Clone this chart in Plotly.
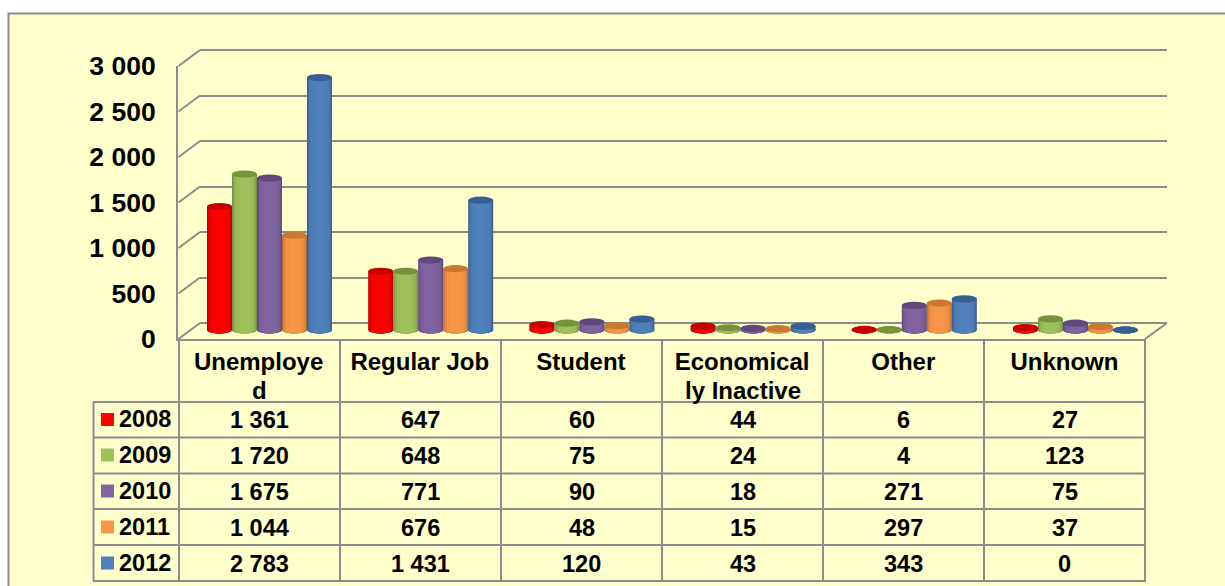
import plotly.graph_objects as go

categories = ["Unemployed", "Regular Job", "Student", "Economically Inactive", "Other", "Unknown"]
label_line1 = ["Unemploye", "Regular Job", "Student", "Economical", "Other", "Unknown"]
label_line2 = ["d", "", "", "ly Inactive", "", ""]
years = ["2008", "2009", "2010", "2011", "2012"]
v2008 = [1361, 647, 60, 44, 6, 27]
v2009 = [1720, 648, 75, 24, 4, 123]
v2010 = [1675, 771, 90, 18, 271, 75]
v2011 = [1044, 676, 48, 15, 297, 37]
v2012 = [2783, 1431, 120, 43, 343, 0]
series = [v2008, v2009, v2010, v2011, v2012]
colors = ["#FF0000", "#A0C05C", "#8064A2", "#F79646", "#4F81BD"]
top_colors = ["#C40000", "#76923C", "#5F497A", "#C87A32", "#366092"]
y_ticks = [0, 500, 1000, 1500, 2000, 2500, 3000]
y_ticktext = ["0", "500", "1 000", "1 500", "2 000", "2 500", "3 000"]

W, H = 1225, 586
FONT = "Liberation Sans"
GRID = "#8C8C8C"
PANEL = "#FFFFCC"


def X(p):
    return p / W


def Y(p):
    return 1 - p / H


def shade(hex_color, f):
    r, g, b = (int(hex_color[i:i + 2], 16) for i in (1, 3, 5))
    return "rgb(%d,%d,%d)" % (r * f, g * f, b * f)


def fmt(v):
    return f"{v:,}".replace(",", " ")


fig = go.Figure()

# Layout scales: back wall, front plane, mid plane (bars)
PX_PER_UNIT = 0.0907
BAR_ZERO_PX = 330
BAR_LO, BAR_HI = -200, 3200
bar_w = 25 / 161.2
disc_half = 3.6 / PX_PER_UNIT
layers = [(1.0, 0.72), (0.94, 0.84), (0.85, 0.93), (0.7, 0.98), (0.42, 1.0)]

shapes = []
# panel
shapes.append(dict(type="rect", xref="paper", yref="paper", x0=X(8.5), x1=X(1240), y0=Y(13.5), y1=Y(600),
                   fillcolor=PANEL, line=dict(color=GRID, width=2), layer="below"))

# side-wall diagonals
for t in y_ticks:
    shapes.append(dict(type="line", xref="paper", yref="paper", x0=X(178.5), x1=X(200),
                       y0=Y(339 - t * 273 / 3000), y1=Y(323 - t * 273 / 3000),
                       line=dict(color=GRID, width=2), layer="below"))
shapes.append(dict(type="line", xref="paper", yref="paper", x0=X(1145), x1=X(1167), y0=Y(339), y1=Y(323),
                   line=dict(color=GRID, width=2), layer="below"))

# table rules
for x in [179, 340, 501, 662, 823, 984, 1145]:
    shapes.append(dict(type="line", xref="paper", yref="paper", x0=X(x), x1=X(x), y0=Y(339), y1=Y(581),
                       line=dict(color=GRID, width=2), layer="below"))
shapes.append(dict(type="line", xref="paper", yref="paper", x0=X(93.5), x1=X(93.5), y0=Y(402), y1=Y(581),
                   line=dict(color=GRID, width=2), layer="below"))
for y in [402, 437.5, 473.5, 509, 545, 581]:
    shapes.append(dict(type="line", xref="paper", yref="paper", x0=X(93), x1=X(1146), y0=Y(y), y1=Y(y),
                       line=dict(color=GRID, width=2), layer="below"))

# back wall grid (first subplot, drawn first)
fig.add_trace(go.Scatter(x=[0], y=[0], xaxis="x", yaxis="y", mode="markers", marker=dict(opacity=0),
                         showlegend=False, hoverinfo="skip"))
# front axis
fig.add_trace(go.Scatter(x=[0], y=[0], xaxis="x2", yaxis="y2", mode="markers", marker=dict(opacity=0),
                         showlegend=False, hoverinfo="skip"))

# cylinders
for s, vals in enumerate(series):
    centre = (s - 2) * bar_w
    for frac, f in layers:
        w = bar_w * frac
        fig.add_trace(go.Bar(
            x=list(range(6)), y=vals, xaxis="x3", yaxis="y3",
            width=[w] * 6, offset=[centre - w / 2] * 6,
            marker=dict(color=shade(colors[s], f), line=dict(width=0)),
            name=years[s], showlegend=False, hoverinfo="skip"))
        for i in range(6):
            shapes.append(dict(type="circle", xref="x3", yref="y3",
                               x0=i + centre - w / 2, x1=i + centre + w / 2,
                               y0=-disc_half, y1=disc_half,
                               fillcolor=shade(colors[s], f), line=dict(width=0), layer="below"))
    for i, v in enumerate(vals):
        shapes.append(dict(type="circle", xref="x3", yref="y3",
                           x0=i + centre - bar_w / 2, x1=i + centre + bar_w / 2,
                           y0=v - disc_half, y1=v + disc_half,
                           fillcolor=top_colors[s], line=dict(width=0), layer="above"))

# table text
annotations = []
col_centres = [259.5, 420.5, 581.5, 742.5, 903.5, 1064.5]
row_centres = [420, 455.5, 491.5, 527.5, 563.5]
for c, line in enumerate(label_line2):
    if line:
        annotations.append(dict(xref="paper", yref="paper", x=X(col_centres[c]), y=Y(390), text=f"<b>{line}</b>",
                                showarrow=False, xanchor="center", yanchor="middle",
                                font=dict(size=24, family=FONT, color="black")))
for r, (yr, vals) in enumerate(zip(years, series)):
    yc = row_centres[r]
    shapes.append(dict(type="rect", xref="paper", yref="paper", x0=X(101), x1=X(114), y0=Y(yc - 7), y1=Y(yc + 6),
                       fillcolor=colors[r], line=dict(width=0), layer="below"))
    annotations.append(dict(xref="paper", yref="paper", x=X(116.5), y=Y(yc - 1), text=f"<b>{yr}</b>", showarrow=False,
                            xanchor="left", yanchor="middle",
                            font=dict(size=23.5, family=FONT, color="black")))
    for c, v in enumerate(vals):
        annotations.append(dict(xref="paper", yref="paper", x=X(col_centres[c]), y=Y(yc), text=f"<b>{fmt(v)}</b>",
                                showarrow=False, xanchor="center", yanchor="middle",
                                font=dict(size=23.5, family=FONT, color="black")))

fig.update_layout(
    template="none",
    width=W, height=H, margin=dict(l=0, r=0, t=0, b=0, pad=0, autoexpand=False),
    paper_bgcolor="white", plot_bgcolor="rgba(0,0,0,0)",
    barmode="overlay", showlegend=False,
    font=dict(family=FONT, color="black"),
    shapes=shapes, annotations=annotations,
    xaxis=dict(domain=[X(200), X(1167)], range=[-0.5, 5.5], visible=False, anchor="y", automargin=False),
    yaxis=dict(domain=[Y(323 + 9.1), Y(50 - 9.1)], range=[-100, 3100], tickvals=y_ticks, showticklabels=False, ticks="",
               showgrid=True, gridcolor=GRID, gridwidth=2, zeroline=False,
               showline=False, anchor="x", automargin=False),
    xaxis2=dict(domain=[X(178), X(1145)], range=[-0.5, 5.5], tickvals=list(range(6)),
                ticktext=[f"<b>{c}</b>" for c in label_line1],
                tickfont=dict(size=24, family=FONT, color="black"), ticks="", showgrid=False, zeroline=False,
                showline=True, linecolor=GRID, linewidth=2, anchor="y2", ticklabelstandoff=0, automargin=False),
    yaxis2=dict(domain=[Y(339), Y(66)], range=[0, 3000], tickvals=y_ticks, ticktext=[f"<b>{t}</b>" for t in y_ticktext],
                tickfont=dict(size=26.5, family=FONT, color="black"), ticks="", showgrid=False, zeroline=False,
                showline=True, linecolor=GRID, linewidth=2, anchor="x2", ticklabelstandoff=15, automargin=False),
    xaxis3=dict(domain=[X(188.9), X(1156.1)], range=[-0.5, 5.5], visible=False, anchor="y3", automargin=False),
    yaxis3=dict(domain=[Y(BAR_ZERO_PX - BAR_LO * PX_PER_UNIT), Y(BAR_ZERO_PX - BAR_HI * PX_PER_UNIT)],
                range=[BAR_LO, BAR_HI], visible=False, anchor="x3", automargin=False),
)

fig.write_html("out.html", config={"displayModeBar": False},
               post_script="document.body.style.margin='0';document.body.style.overflow='hidden';")
